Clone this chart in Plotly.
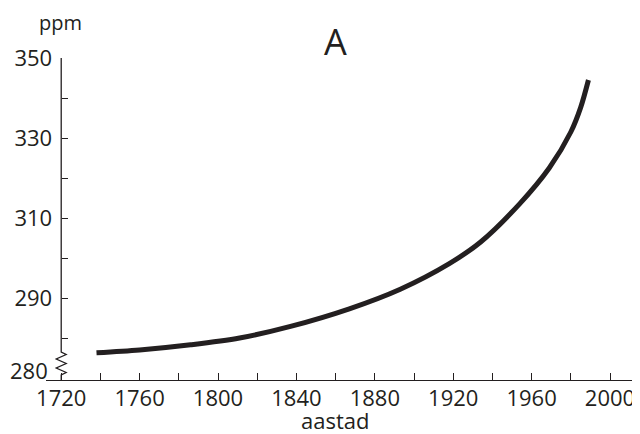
import plotly.graph_objects as go

# Data
years = [1738, 1760, 1786, 1811, 1837, 1867, 1893, 1918, 1934, 1954, 1969, 1980, 1985, 1989]
ppm = [276.3, 277.0, 278.3, 280.0, 282.9, 287.3, 292.2, 298.6, 304.0, 313.6, 322.5, 331.5, 337.6, 344.5]

x_tickvals = list(range(1720, 2001, 20))
x_ticktext = [str(v) if (v - 1720) % 40 == 0 else "" for v in x_tickvals]
y_tickvals = [280, 290, 300, 310, 320, 330, 340, 350]
y_ticktext = ["", "290", "", "310", "", "330", "", "350"]

INK = "#231f20"
FONT = "Open Sans"

fig = go.Figure()
fig.add_trace(go.Scatter(
    x=years, y=ppm, mode="lines",
    line=dict(color=INK, width=5, shape="spline", smoothing=0.9),
    hoverinfo="skip", showlegend=False,
))

xmin, xmax = 1712.24, 2015.3
ymin, ymax = 269.5, 350
ypos = (1720 - xmin) / (xmax - xmin)

# page has an 8px body margin: figure is shifted by 8px, so compensate
fig.update_layout(
    width=632, height=426,
    margin=dict(l=38, r=0, t=50, b=54),
    paper_bgcolor="white", plot_bgcolor="white",
    font=dict(family=FONT, size=22, color=INK),
    xaxis=dict(
        range=[xmin, xmax], showgrid=False, zeroline=False,
        showline=True, linecolor=INK, linewidth=1.3,
        ticks="inside", ticklen=7, tickwidth=1.1, tickcolor=INK,
        tickvals=x_tickvals, ticktext=x_ticktext,
        tickfont=dict(family=FONT, size=22, color=INK),
        ticklabelstandoff=-2,
    ),
    yaxis=dict(
        range=[ymin, ymax], showgrid=False, zeroline=False,
        showline=False, anchor="free", position=ypos,
        ticks="inside", ticklen=6, tickwidth=1.1, tickcolor=INK,
        tickvals=y_tickvals, ticktext=y_ticktext,
        tickfont=dict(family=FONT, size=22, color=INK),
        ticklabelstandoff=9,
    ),
)

# y-axis line with break zigzag (data coordinates)
a = 5 / 1.96  # zigzag half-width in years (~5 px)
def yv(px):
    return 290 - (px - 298) / 4.0
zig = [(0, 352), (a, 354.5), (-a, 359), (a, 363.5), (-a, 368), (a, 372.5), (0, 375), (0, 380)]
path = f"M 1720 {ymax} L 1720 {yv(352)}"
for dx, py in zig[1:]:
    path += f" L {1720 + dx} {yv(py)}"
fig.add_shape(type="path", path=path, xref="x", yref="y",
              line=dict(color=INK, width=1.3))

pw = 594.0
ph = 322.0
def px_x(px):
    return (px - 46) / pw
def px_y(py):
    return (380 - py) / ph

fig.add_annotation(text="280", x=1720, y=yv(370), xref="x", yref="y",
                   xanchor="right", yanchor="middle", xshift=-11, showarrow=False,
                   font=dict(family=FONT, size=22, color=INK))
fig.add_annotation(text="ppm", x=px_x(60), y=px_y(22), xref="paper", yref="paper",
                   xanchor="center", yanchor="middle", showarrow=False,
                   font=dict(family=FONT, size=20, color=INK))
fig.add_annotation(text="A", x=px_x(335), y=px_y(42), xref="paper", yref="paper",
                   xanchor="center", yanchor="middle", showarrow=False,
                   font=dict(family=FONT, size=36, color=INK))
fig.add_annotation(text="aastad", x=px_x(335), y=px_y(420), xref="paper", yref="paper",
                   xanchor="center", yanchor="middle", showarrow=False,
                   font=dict(family=FONT, size=22, color=INK))

fig.write_html("out.html")
